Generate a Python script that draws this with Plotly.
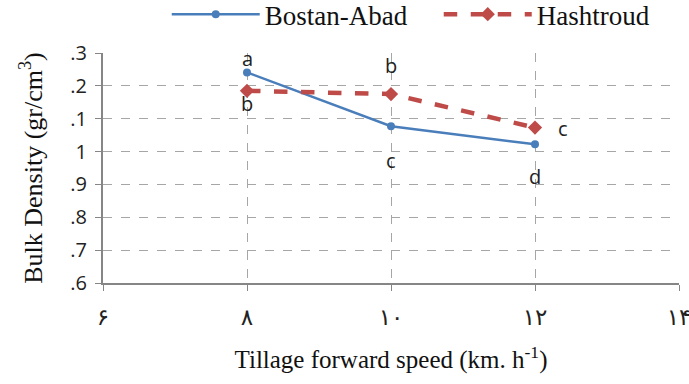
import plotly.graph_objects as go

speeds = [8, 10, 12]
bostan = [1.241, 1.077, 1.022]
hashtroud = [1.185, 1.175, 1.073]
bostan_letters = ["a", "c", "d"]
hashtroud_letters = ["b", "b", "c"]
x_ticks = [6, 8, 10, 12, 14]
x_ticklabels = ["۶", "۸", "۱۰", "۱۲", "۱۴"]
y_ticks = [0.6, 0.7, 0.8, 0.9, 1.0, 1.1, 1.2, 1.3]
y_ticklabels = [".6", ".7", ".8", ".9", "1", ".1", ".2", ".3"]

SERIF = "Liberation Serif"
SANS = "Open Sans"

fig = go.Figure()
fig.add_trace(go.Scatter(
    x=speeds, y=bostan, name="Bostan-Abad", mode="lines+markers",
    line=dict(color="#4a7ebb", width=2.5),
    marker=dict(symbol="circle", size=8, color="#4a7ebb"),
))
fig.add_trace(go.Scatter(
    x=speeds, y=hashtroud, name="Hashtroud", mode="lines+markers",
    line=dict(color="#be4b48", width=4.5, dash="dash"),
    marker=dict(symbol="diamond", size=11, color="#be4b48"),
))

b_shift = [(0, 14), (0, -34), (0, -32)]
h_shift = [(0, -13), (0, 29), (28, -1)]
for x, y, t, (dx, dy) in zip(speeds, bostan, bostan_letters, b_shift):
    fig.add_annotation(x=x, y=y, text=t, showarrow=False, xshift=dx, yshift=dy,
                       font=dict(family=SANS, size=20, color="#222"))
for x, y, t, (dx, dy) in zip(speeds, hashtroud, hashtroud_letters, h_shift):
    fig.add_annotation(x=x, y=y, text=t, showarrow=False, xshift=dx, yshift=dy,
                       font=dict(family=SANS, size=20, color="#222"))

grid = dict(showgrid=True, gridcolor="#a6a6a6", griddash="dash", gridwidth=1)
fig.update_xaxes(
    range=[6, 14], tickvals=x_ticks, ticktext=x_ticklabels,
    showline=True, linecolor="#868686", linewidth=2,
    ticks="outside", ticklen=6, tickcolor="#868686",
    ticklabeloverflow="allow", automargin=False, ticklabelstandoff=6,
    tickfont=dict(family="DejaVu Sans", size=23, color="#222"),
    title=dict(text="Tillage forward speed (km. h<sup>-1</sup>)",
               font=dict(family=SERIF, size=25, color="#111"),
               standoff=22),
    zeroline=False, **grid,
)
fig.update_yaxes(
    range=[0.6, 1.3], tickvals=y_ticks, ticktext=y_ticklabels,
    showline=True, linecolor="#868686", linewidth=2,
    ticks="outside", ticklen=6, tickcolor="#868686",
    automargin=False, ticklabelstandoff=4,
    tickfont=dict(family=SANS, size=20, color="#222"),
    title=dict(text="Bulk Density (gr/cm<sup>3</sup>)",
               font=dict(family=SERIF, size=26, color="#111"),
               standoff=20),
    zeroline=False, **grid,
)
fig.update_layout(
    width=689, height=384,
    margin=dict(l=103, r=10, t=53, b=101),
    plot_bgcolor="white", paper_bgcolor="white",
    showlegend=True,
    legend=dict(orientation="h", xref="container", yref="container",
                x=0.242, y=0.962, xanchor="left", yanchor="middle",
                font=dict(family=SERIF, size=27, color="#111"),
                itemwidth=88, entrywidth=169),
)
fig.write_html("out.html")
